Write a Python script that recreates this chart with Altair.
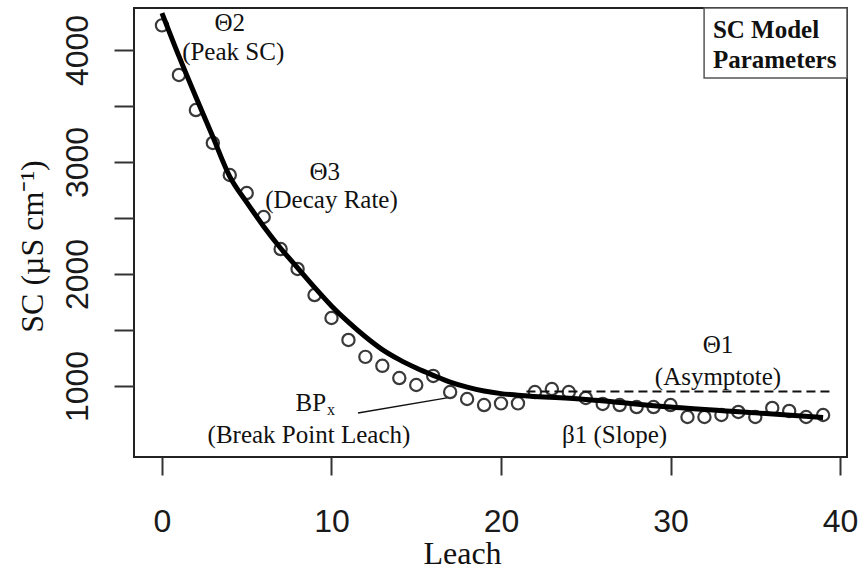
import altair as alt
import pandas as pd

# ---- data ----
leach = list(range(40))
sc = [4220, 3777, 3464, 3170, 2884, 2723, 2509, 2223, 2045, 1812,
      1607, 1411, 1260, 1180, 1071, 1009, 1090, 946, 884, 830,
      845, 845, 946, 973, 946, 893, 840, 830, 812, 812,
      830, 723, 723, 741, 768, 723, 804, 777, 723, 741]

curve_leach = [0, 1, 2, 3, 4, 5, 6, 7, 8, 9, 10, 11, 12, 13, 14, 15, 16,
               17, 18, 19, 20, 21, 25, 30, 35, 39]
curve_sc = [4330, 3945, 3580, 3225, 2870, 2640, 2425, 2230, 2055, 1880,
            1715, 1570, 1440, 1325, 1235, 1160, 1095, 1035, 990, 955,
            932, 918, 880, 812, 760, 718]

asym_leach = [21.5, 39.6]
asym_sc = [950, 950]

bp_leach = [11.56, 16.81]
bp_sc = [759, 893]

box_leach = [31.98, 40.41]
box_sc = [3750, 4375]

ann_text = ["Θ2", "(Peak SC)", "Θ3", "(Decay Rate)", "Θ1", "(Asymptote)",
            "(Break Point Leach)", "β1 (Slope)"]
ann_leach = [4.0, 4.2, 9.6, 10.0, 32.8, 32.8, 8.67, 26.7]
ann_sc = [4241, 3982, 2911, 2661, 1366, 1080, 562, 562]

legend_text = ["SC Model", "Parameters"]
legend_leach = [32.5, 32.5]
legend_sc = [4179, 3911]

X_DOMAIN = [-1.65, 40.41]
Y_DOMAIN = [366, 4375]
x_ticks = [0, 10, 20, 30, 40]
y_ticks = [1000, 1500, 2000, 2500, 3000, 3500, 4000]

# ---- tables ----
pts = pd.DataFrame({"leach": leach, "sc": sc})
crv = pd.DataFrame({"leach": curve_leach, "sc": curve_sc})
asym = pd.DataFrame({"leach": asym_leach, "sc": asym_sc})
bp = pd.DataFrame({"leach": bp_leach, "sc": bp_sc})
box = pd.DataFrame({"leach": [box_leach[0]], "x2": [box_leach[1]],
                    "sc": [box_sc[0]], "y2": [box_sc[1]]})
ann = pd.DataFrame({"t": ann_text, "leach": ann_leach, "sc": ann_sc})
bp_lab = pd.DataFrame({"t": ["BP"], "leach": [9.68], "sc": [848]})
bp_sub = pd.DataFrame({"t": ["x"], "leach": [9.73], "sc": [790]})
leg = pd.DataFrame({"t": legend_text, "leach": legend_leach, "sc": legend_sc})

xs = alt.Scale(domain=X_DOMAIN, nice=False, zero=False)
ys = alt.Scale(domain=Y_DOMAIN, nice=False, zero=False)

x_axis = alt.Axis(values=x_ticks, title="Leach", domain=False, grid=False,
                  tickSize=18, tickWidth=2, tickColor="#333",
                  labelFont="Liberation Sans", labelFontSize=32,
                  labelColor="#1a1a1a", labelPadding=31, labelBaseline="top",
                  labelFlush=False, labelOverlap=False,
                  titleFont="Liberation Serif", titleFontSize=32,
                  titleFontWeight="normal", titleColor="#111",
                  titleX=328, titleY=106, titleBaseline="alphabetic",
                  titleAlign="center")

y_axis = alt.Axis(values=y_ticks, format="d",
                  labelExpr="datum.value % 1000 === 0 ? datum.label : ''",
                  title="SC (µS cm⁻¹)", domain=False, grid=False,
                  tickSize=20, tickWidth=2, tickColor="#333",
                  labelFont="Liberation Sans", labelFontSize=32,
                  labelColor="#1a1a1a", labelAngle=270, labelAlign="center",
                  labelBaseline="alphabetic", labelPadding=27,
                  labelFlush=False, labelOverlap=False,
                  titleFont="Liberation Serif", titleFontSize=32,
                  titleFontWeight="normal", titleColor="#111",
                  titleAngle=270, titleX=-92, titleY=238,
                  titleAlign="center", titleBaseline="alphabetic")

X = alt.X("leach:Q", scale=xs, axis=x_axis)
Y = alt.Y("sc:Q", scale=ys, axis=y_axis)

rect = alt.Chart(box).mark_rect(fill="white", stroke="#555", strokeWidth=1.5).encode(
    x=X, x2="x2:Q", y=Y, y2="y2:Q")

points = alt.Chart(pts).mark_point(shape="circle", filled=False, size=150,
                                   strokeWidth=2.2, color="#3a3a3a", opacity=1).encode(
    x=X, y=Y)

curve = alt.Chart(crv).mark_line(color="black", strokeWidth=5,
                                 interpolate="monotone").encode(x=X, y=Y)

dashed = alt.Chart(asym).mark_line(color="#111", strokeWidth=2,
                                   strokeDash=[9, 5]).encode(x=X, y=Y)

leader = alt.Chart(bp).mark_line(color="#111", strokeWidth=1.3).encode(x=X, y=Y)

texts = alt.Chart(ann).mark_text(font="Liberation Serif", fontSize=25,
                                 color="#111", align="center",
                                 baseline="middle").encode(x=X, y=Y, text="t:N")

bp_text = alt.Chart(bp_lab).mark_text(font="Liberation Serif", fontSize=25,
                                      color="#111", align="right",
                                      baseline="middle").encode(x=X, y=Y, text="t:N")

bp_sub_text = alt.Chart(bp_sub).mark_text(font="Liberation Serif", fontSize=16,
                                          color="#111", align="left",
                                          baseline="middle").encode(x=X, y=Y, text="t:N")

legend_texts = alt.Chart(leg).mark_text(font="Liberation Serif", fontSize=25,
                                        fontWeight="bold", color="#111",
                                        align="left", baseline="middle").encode(
    x=X, y=Y, text="t:N")

chart = alt.layer(rect, points, curve, dashed, leader, texts, bp_text,
                  bp_sub_text, legend_texts).properties(
    width=713, height=449,
    padding={"left": 134, "top": 8, "right": 13, "bottom": 112},
    autosize=alt.AutoSizeParams(type="none"),
    background="white",
).configure_view(stroke="#222", strokeWidth=2)

chart.save("out.html", embed_options={"renderer": "svg", "actions": False})
